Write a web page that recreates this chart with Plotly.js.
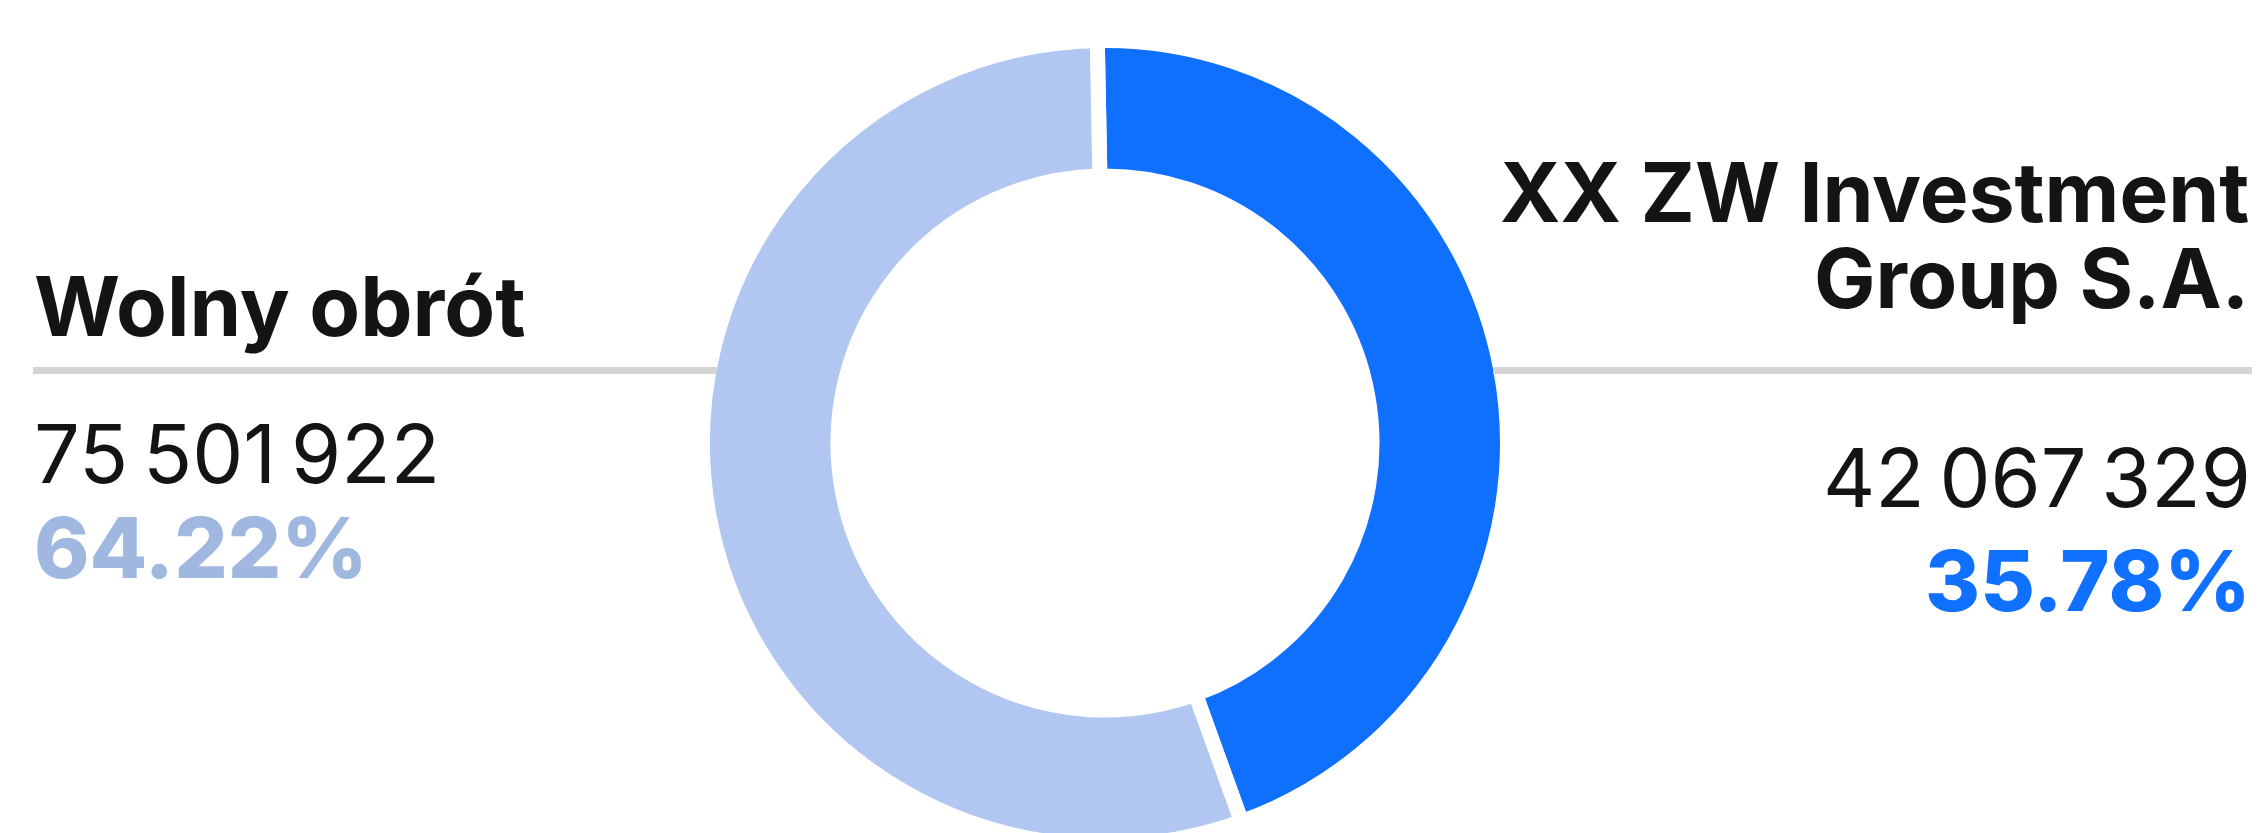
<!DOCTYPE html>
<html>
<head>
<meta charset="utf-8">
<script src="https://cdn.plot.ly/plotly-3.0.1.min.js"></script>
<style>
html, body { margin: 0; padding: 0; background: #ffffff; overflow: hidden; }
#chart { width: 2262px; height: 886px; }
</style>
</head>
<body>
<div id="chart"></div>
<script>
// ---- data ----
var holderLabels = ["XX ZW Investment Group S.A.", "Wolny obrót"];
var holderLabelLines = [["XX ZW Investment", "Group S.A."], ["Wolny obrót"]];
var shareCounts = [42067329, 75501922];
var sharePercents = ["35.78%", "64.22%"];
// arc sizes as drawn in the ring (share of full circle)
var arcShares = [44.8, 55.2];
var sliceColors = ["#1070fe", "#b1c7f1"];
var percentColors = ["#1070ff", "#a0b8e0"];

function fmtCount(n) {
  return String(n).replace(/\B(?=(\d{3})+(?!\d))/g, "\u2009");
}

var W = 2262, H = 886;
function px(x) { return x / W; }
function py(y) { return 1 - y / H; }

var FONT = "Inter, 'Noto Sans', sans-serif";
var INK = "#141414";

var trace = {
  type: "pie",
  values: arcShares,
  labels: holderLabels,
  sort: false,
  direction: "clockwise",
  rotation: -1.1,
  hole: 0.6634,
  textinfo: "none",
  hoverinfo: "none",
  marker: { colors: sliceColors, line: { color: "#ffffff", width: 15 } },
  domain: { x: [0.30, 0.677], y: [0.0457, 0.9543] },
  showlegend: false
};

var annotations = [];
function ann(text, x, y, anchor, size, weight, color, h) {
  var a = {
    text: text, xref: "paper", yref: "paper", x: px(x), y: py(y),
    xanchor: anchor, yanchor: "middle", showarrow: false, borderpad: 0,
    font: { family: FONT, size: size, weight: weight, color: color }
  };
  if (h) a.height = h;
  annotations.push(a);
}

// right block: XX ZW Investment Group S.A.
ann(holderLabelLines[0][0], 2250, 192.5, "right", 82, 700, INK, 78);
ann(holderLabelLines[0][1], 2250, 278, "right", 82, 700, INK, 92);
ann(fmtCount(shareCounts[0]), 2252, 478, "right", 81, 400, INK);
ann(sharePercents[0], 2252, 580, "right", 84, 800, percentColors[0]);

// left block: Wolny obrót
ann(holderLabelLines[1][0], 33, 306, "left", 83, 700, INK);
ann(fmtCount(shareCounts[1]), 33, 454, "left", 81, 400, INK);
ann(sharePercents[1], 33, 547.5, "left", 84, 800, percentColors[1]);

var shapes = [
  { type: "line", xref: "paper", yref: "paper", x0: px(33), x1: px(717), y0: py(370.5), y1: py(370.5),
    line: { color: "#d4d4d4", width: 7 }, layer: "above" },
  { type: "line", xref: "paper", yref: "paper", x0: px(1493), x1: px(2252), y0: py(370.5), y1: py(370.5),
    line: { color: "#d4d4d4", width: 7 }, layer: "above" }
];

var layout = {
  width: W, height: H,
  margin: { l: 0, r: 0, t: 0, b: 0 },
  paper_bgcolor: "#ffffff",
  plot_bgcolor: "#ffffff",
  showlegend: false,
  annotations: annotations,
  shapes: shapes
};

Plotly.newPlot("chart", [trace], layout, { displayModeBar: false, staticPlot: true });
</script>
</body>
</html>
